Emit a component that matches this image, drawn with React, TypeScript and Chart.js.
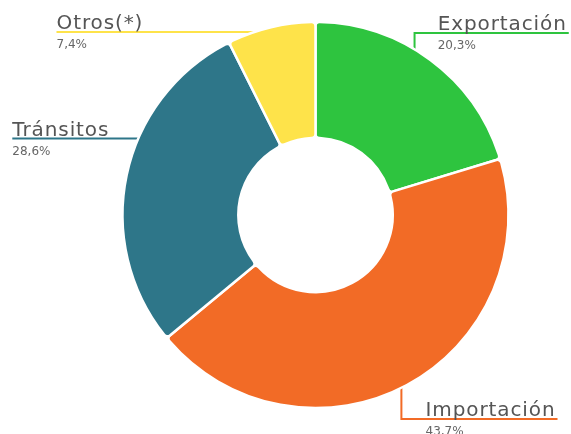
import React, { useEffect, useRef } from "react";
import { Chart, registerables } from "chart.js";

Chart.register(...registerables);

const categories = ["Exportación", "Importación", "Tránsitos", "Otros(*)"];
const shares = [20.3, 43.7, 28.6, 7.4];
const shareLabels = ["20,3%", "43,7%", "28,6%", "7,4%"];
const sliceColors = ["#2EC43F", "#F26B26", "#2E7689", "#FEE34A"];

// Label layout (style): positions relative to the doughnut centre, in units of the outer radius
const labelLayout = [
  { side: "right", anchorR: 0.862, lineY: -0.943, textX: 0.633 },
  { side: "right", anchorR: 0.94, lineY: 1.057, textX: 0.57 },
  { side: "left", anchorR: 0.85, lineY: -0.396, textX: -1.571 },
  { side: "left", anchorR: 0.974, lineY: -0.948, textX: -1.342 },
];

const NAME_FONT = "20px 'DejaVu Sans'";
const PCT_FONT = "12px 'DejaVu Sans'";
const NAME_SPACING = "0.9px";

function geometry(chart: any) {
  const meta = chart.getDatasetMeta(0);
  return meta.data.map((arc: any, i: number) => {
    const p = arc.getProps(["x", "y", "startAngle", "endAngle", "outerRadius"], true);
    const R = p.outerRadius;
    const mid = (p.startAngle + p.endAngle) / 2;
    const L = labelLayout[i];
    const ax = p.x + Math.cos(mid) * R * L.anchorR;
    const ay = p.y + Math.sin(mid) * R * L.anchorR;
    const ly = p.y + R * L.lineY;
    const tx = p.x + R * L.textX;
    return { ax, ay, ly, tx, side: L.side };
  });
}

const leaderPlugin = {
  id: "leaders",
  beforeDatasetsDraw(chart: any) {
    const ctx = chart.ctx;
    const g = geometry(chart);
    ctx.save();
    (ctx as any).letterSpacing = NAME_SPACING;
    ctx.font = NAME_FONT;
    g.forEach((o: any, i: number) => {
      const w = ctx.measureText(categories[i]).width;
      ctx.strokeStyle = sliceColors[i];
      ctx.lineWidth = 2;
      ctx.beginPath();
      ctx.moveTo(o.ax, o.ay);
      ctx.lineTo(o.ax, o.ly);
      if (o.side === "right") {
        ctx.lineTo(Math.min(o.tx + w + 2, chart.width), o.ly);
      } else {
        ctx.lineTo(o.tx, o.ly);
      }
      ctx.stroke();
    });
    ctx.restore();
  },
  afterDatasetsDraw(chart: any) {
    const ctx = chart.ctx;
    const g = geometry(chart);
    ctx.save();
    g.forEach((o: any, i: number) => {
      (ctx as any).letterSpacing = NAME_SPACING;
      ctx.font = NAME_FONT;
      ctx.fillStyle = "#555555";
      ctx.textAlign = "left";
      ctx.textBaseline = "alphabetic";
      ctx.fillText(categories[i], o.tx, o.ly - 3);
      (ctx as any).letterSpacing = "0px";
      ctx.font = PCT_FONT;
      ctx.fillStyle = "#666666";
      ctx.textBaseline = "top";
      ctx.fillText(shareLabels[i], o.tx, o.ly + 7);
    });
    ctx.restore();
  },
};

export default function App() {
  const ref = useRef<HTMLCanvasElement | null>(null);
  useEffect(() => {
    document.body.style.margin = "0";
    const chart = new Chart(ref.current as HTMLCanvasElement, {
      type: "doughnut",
      data: {
        labels: categories,
        datasets: [
          {
            data: shares,
            backgroundColor: sliceColors,
            borderColor: "#ffffff",
            borderWidth: 2.5,
            borderRadius: 4,
            hoverOffset: 0,
          },
        ],
      },
      options: {
        responsive: false,
        animation: false,
        radius: 193,
        cutout: "40%",
        layout: { padding: { left: 60, right: 0, top: 0, bottom: 4 } },
        plugins: { legend: { display: false }, tooltip: { enabled: false } },
      },
      plugins: [leaderPlugin],
    });
    return () => chart.destroy();
  }, []);
  return (
    <div style={{ width: 571, height: 434, background: "#fff" }}>
      <canvas ref={ref} width={571} height={434} />
    </div>
  );
}
